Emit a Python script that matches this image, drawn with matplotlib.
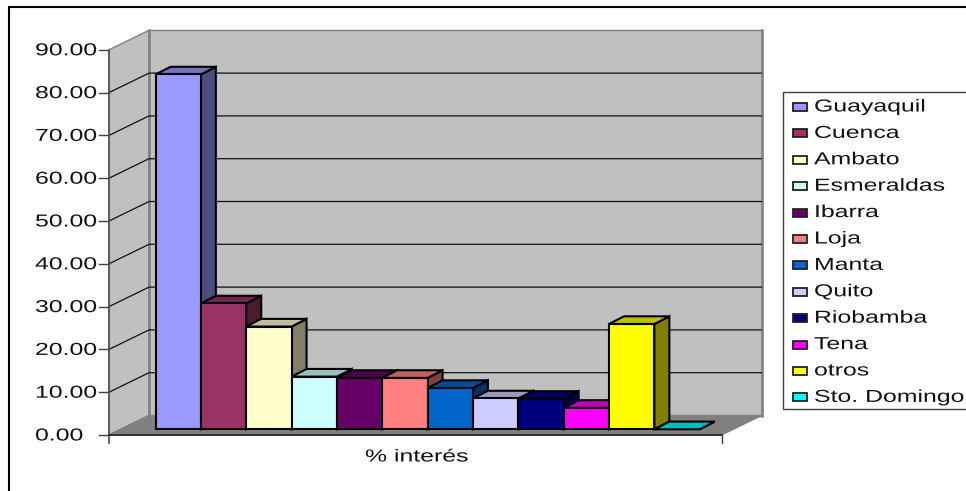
# coding: utf8
import matplotlib
matplotlib.use("Agg")
import matplotlib.pyplot as plt
from matplotlib.patches import Polygon, Rectangle
from matplotlib.patheffects import AbstractPathEffect
from matplotlib.transforms import Affine2D

ciudades = ["Guayaquil", "Cuenca", "Ambato", "Esmeraldas", "Ibarra", "Loja",
            "Manta", "Quito", "Riobamba", "Tena", "otros", "Sto. Domingo"]
interes = [82.9, 29.4, 24.0, 12.3, 12.0, 12.0, 9.65, 7.2, 7.1, 5.0, 24.6, 0.0]
colores = ["#9999ff", "#993366", "#ffffcc", "#ccffff", "#660066", "#ff8080",
           "#0066cc", "#ccccff", "#000080", "#ff00ff", "#ffff00", "#00ffff"]
ticks = [0, 10, 20, 30, 40, 50, 60, 70, 80, 90]
xlabel = "% interés"

# pixels per unit of the value axis and the floor corners
ESCALA = 4.28
X0, Y0 = 109, 435
DX, DY = 40, -19.5
ANCHO = 612.5
BAR_X0, BAR_W, BAR_Y0 = 155.5, 45.35, 429.3
BAR_DX, BAR_DY = 15, -7.7


class Ancho(AbstractPathEffect):
    # widens glyphs horizontally from the text origin
    def __init__(self, sx):
        super().__init__()
        self.sx = sx

    def draw_path(self, renderer, gc, tpath, affine, rgbFace=None):
        renderer.draw_path(gc, tpath, Affine2D().scale(self.sx, 1) + affine, rgbFace)


def sombra(c, f=0.6):
    rgb = matplotlib.colors.to_rgb(c)
    return tuple(v * f for v in rgb)


plt.rcParams['font.family'] = ['Liberation Sans', 'DejaVu Sans']
fig = plt.figure(figsize=(9.66, 4.91), dpi=100)
ax = fig.add_axes([0, 0, 1, 1])
ax.set_xlim(0, 966)
ax.set_ylim(491, 0)
ax.axis("off")
FS = 12.5
ancho = [Ancho(1.43)]


def texto(x, y, s, z=4):
    ax.text(x, y, s, ha="left", va="baseline", fontsize=FS, color="#111111",
            path_effects=ancho, zorder=z)


# marco exterior
ax.add_patch(Rectangle((9, 7), 1000, 600, fc="white", ec="black", lw=1.5))

# paredes y piso
top = ESCALA * 90
ax.add_patch(Polygon([(X0, Y0), (X0 + DX, Y0 + DY), (X0 + DX, Y0 + DY - top), (X0, Y0 - top)],
                     fc="#c0c0c0", ec="#808080", lw=1))
ax.add_patch(Polygon([(X0 + DX, Y0 + DY), (X0 + DX + ANCHO, Y0 + DY),
                      (X0 + DX + ANCHO, Y0 + DY - top), (X0 + DX, Y0 + DY - top)],
                     fc="#c0c0c0", ec="#808080", lw=1))
ax.plot([X0 + DX, X0 + DX], [Y0 + DY, Y0 + DY - top], color="#808080", lw=1.8, zorder=1.5)
ax.plot([X0 + DX + ANCHO] * 2, [Y0 + DY, Y0 + DY - top], color="#808080", lw=1.8, zorder=1.5)
ax.add_patch(Polygon([(X0, Y0), (X0 + DX, Y0 + DY), (X0 + DX + ANCHO, Y0 + DY), (X0 + ANCHO, Y0)],
                     fc="#808080", ec="#808080", lw=1, zorder=1.6))

# rejilla y ejes
for t in ticks:
    y = Y0 - ESCALA * t
    if 0 < t < 90:
        ax.plot([X0, X0 + DX, X0 + DX + ANCHO], [y, y + DY, y + DY], color="#101010", lw=0.9, zorder=2,
                solid_joinstyle="miter")
    ax.plot([X0 - 10, X0], [y, y], color="#404040", lw=1, zorder=2)
    texto(35, y + 5.5, "%.2f" % t)
ax.plot([X0, X0], [Y0 - top, Y0 + 8], color="#505050", lw=1.2, zorder=2)
ax.plot([X0, X0 + ANCHO], [Y0, Y0], color="#303030", lw=1.4, zorder=2)
ax.plot([X0 + ANCHO, X0 + ANCHO], [Y0, Y0 + 8], color="#404040", lw=1, zorder=2)

# barras 3D
for i, (v, c) in enumerate(zip(interes, colores)):
    x = BAR_X0 + BAR_W * i
    y = BAR_Y0 - ESCALA * v
    z = 3 + i * 0.01
    ax.add_patch(Polygon([(x + BAR_W, y), (x + BAR_W + BAR_DX, y + BAR_DY),
                          (x + BAR_W + BAR_DX, BAR_Y0 + BAR_DY), (x + BAR_W, BAR_Y0)],
                         fc=sombra(c, 0.5), ec="black", lw=1.5, zorder=z))
    ax.add_patch(Polygon([(x, y), (x + BAR_DX, y + BAR_DY), (x + BAR_W + BAR_DX, y + BAR_DY), (x + BAR_W, y)],
                         fc=sombra(c, 0.75), ec="black", lw=1.5, zorder=z))
    if v > 0:
        ax.add_patch(Rectangle((x, y), BAR_W, ESCALA * v, fc=c, ec="black", lw=1.5, zorder=z))

texto(365, 461.5, xlabel)

# leyenda
ax.add_patch(Rectangle((783, 92.3), 300, 316.7, fc="white", ec="#404040", lw=1, zorder=5))
for i, (n, c) in enumerate(zip(ciudades, colores)):
    ax.add_patch(Rectangle((792.5, 103 + i * 26.4), 14, 8, fc=c, ec="#202020", lw=1.3, zorder=6))
    texto(814, 111.5 + i * 26.4, n, z=6)

fig.savefig("out.png", dpi=100)
